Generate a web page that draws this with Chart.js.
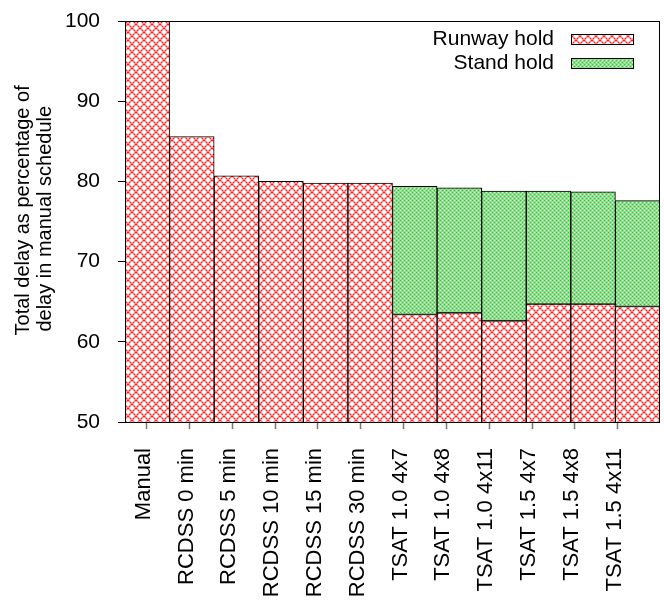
<!DOCTYPE html>
<html>
<head>
<meta charset="utf-8">
<script src="https://cdn.jsdelivr.net/npm/chart.js@4/dist/chart.umd.min.js"></script>
<style>
    html, body { margin: 0; padding: 0; background: #fff; }
    #wrap { width: 664px; height: 603px; }
</style>
</head>
<body>
<div id="wrap"><canvas id="delayChart" width="664" height="603"></canvas></div>
<script>
const categories = [
    "Manual", "RCDSS 0 min", "RCDSS 5 min", "RCDSS 10 min", "RCDSS 15 min", "RCDSS 30 min",
    "TSAT 1.0 4x7", "TSAT 1.0 4x8", "TSAT 1.0 4x11", "TSAT 1.5 4x7", "TSAT 1.5 4x8", "TSAT 1.5 4x11"
];
const runwayHold = [100, 85.6, 80.7, 80.0, 79.8, 79.8, 63.4, 63.6, 62.6, 64.7, 64.7, 64.4];
const standHold = [null, null, null, null, null, null, 16.0, 15.6, 16.2, 14.1, 14.0, 13.2];
const yTicks = [50, 60, 70, 80, 90, 100];

const FONT = "'Liberation Sans', Arial, sans-serif";

function crossHatch() {
    const c = document.createElement("canvas");
    c.width = 8; c.height = 8;
    const g = c.getContext("2d");
    g.fillStyle = "#fff";
    g.fillRect(0, 0, 8, 8);
    g.strokeStyle = "#ff8080";
    g.lineWidth = 1.7;
    g.beginPath();
    g.moveTo(-1, -1); g.lineTo(9, 9);
    g.moveTo(9, -1); g.lineTo(-1, 9);
    g.stroke();
    g.fillStyle = "#ff1a1a";
    for (let i = 0; i < 8; i += 2) {
        g.fillRect(i, i, 1, 1);
        g.fillRect(7 - i, i, 1, 1);
    }
    return g.createPattern(c, "repeat");
}

function fineHatch() {
    const c = document.createElement("canvas");
    c.width = 4; c.height = 4;
    const g = c.getContext("2d");
    g.fillStyle = "#8ee08e";
    g.fillRect(0, 0, 4, 4);
    g.fillStyle = "#26c626";
    g.fillRect(0, 0, 1, 1);
    g.fillRect(2, 2, 1, 1);
    g.fillStyle = "#e6fae6";
    g.fillRect(2, 0, 1, 1);
    g.fillRect(0, 2, 1, 1);
    return g.createPattern(c, "repeat");
}

// box round the plot and the legend in its top right corner
const frameAndLegend = {
    id: "frameAndLegend",
    afterDatasetsDraw(chart) {
        const { ctx, chartArea: a } = chart;
        ctx.save();
        ctx.strokeStyle = "#000";
        ctx.lineWidth = 1;
        ctx.strokeRect(a.left + 0.5, a.top + 0.5, a.right - a.left - 1, a.bottom - a.top);

        ctx.font = `21px ${FONT}`;
        ctx.textAlign = "right";
        ctx.textBaseline = "middle";
        chart.data.datasets.forEach((ds, i) => {
            const y = a.top + 18 + i * 24;
            ctx.fillStyle = "#000";
            ctx.fillText(ds.label, a.right - 106, y);
            ctx.fillStyle = ds.backgroundColor;
            ctx.fillRect(a.right - 89, y - 5, 62, 10);
            ctx.strokeRect(a.right - 89 + 0.5, y - 5 + 0.5, 62, 10);
        });
        ctx.restore();
    }
};

new Chart(document.getElementById("delayChart"), {
    type: "bar",
    data: {
        labels: categories,
        datasets: [
            {
                label: "Runway hold",
                data: runwayHold,
                backgroundColor: crossHatch(),
                borderColor: "#000",
                borderWidth: 1,
                borderSkipped: false
            },
            {
                label: "Stand hold",
                data: standHold,
                backgroundColor: fineHatch(),
                borderColor: "#000",
                borderWidth: 1,
                borderSkipped: false
            }
        ]
    },
    options: {
        responsive: false,
        animation: false,
        devicePixelRatio: 1,
        layout: { padding: { top: 21, right: 4, left: 0, bottom: 0 } },
        datasets: { bar: { barPercentage: 1, categoryPercentage: 1 } },
        plugins: {
            legend: { display: false },
            tooltip: { enabled: false }
        },
        scales: {
            x: {
                stacked: true,
                display: false
            },
            // label axis: gnuplot ticks sit a little left of the bar centres
            xl: {
                type: "linear",
                position: "bottom",
                bounds: "data",
                offset: false,
                min: -0.506,
                max: 11.988,
                afterBuildTicks: s => { s.ticks = categories.map((_, i) => ({ value: i })); },
                afterFit: s => { s.height = 181; s.paddingLeft = 0; s.paddingRight = 0; },
                grid: { offset: false, drawOnChartArea: false, tickLength: 7, color: "#777", tickWidth: 1.5 },
                border: { display: false },
                ticks: {
                    autoSkip: false,
                    minRotation: 90,
                    maxRotation: 90,
                    padding: 19,
                    labelOffset: -3,
                    color: "#000",
                    font: { family: FONT, size: 22 },
                    callback: v => categories[v]
                }
            },
            y: {
                stacked: true,
                min: 50,
                max: 100,
                afterBuildTicks: s => { s.ticks = yTicks.map(v => ({ value: v })); },
                afterFit: s => { s.width = 125; s.paddingTop = 0; s.paddingBottom = 0; },
                grid: { drawOnChartArea: false, tickLength: 7, color: "#000" },
                border: { color: "#000" },
                ticks: {
                    padding: 18,
                    color: "#000",
                    font: { family: FONT, size: 21 }
                },
                title: {
                    display: true,
                    text: ["    Total delay as percentage of", "    delay in manual schedule   "],
                    color: "#000",
                    font: { family: FONT, size: 20, lineHeight: 1.1 },
                    padding: { top: 12, bottom: 0 }
                }
            }
        }
    },
    plugins: [frameAndLegend]
});
</script>
</body>
</html>
